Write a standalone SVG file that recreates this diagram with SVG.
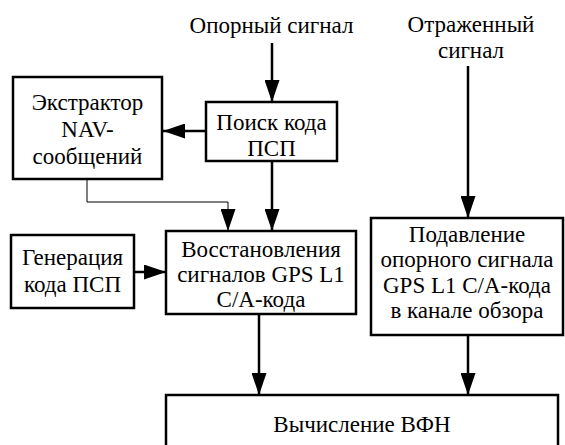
<svg xmlns="http://www.w3.org/2000/svg" width="565" height="445" viewBox="0 0 565 445">
<style>
.box{fill:#fff;stroke:#000;stroke-width:2.5}
text{font-family:'Liberation Serif','Times New Roman',serif;font-size:23px;fill:#000;text-anchor:middle}
.c{fill:none;stroke:#000;stroke-width:2.5}
.t{fill:none;stroke:#000;stroke-width:1}
</style>
<defs>
<marker id="ah" markerUnits="userSpaceOnUse" markerWidth="22" markerHeight="15" refX="22" refY="7.5" orient="auto" viewBox="0 0 22 15">
<path d="M0,0 L22,7.5 L0,15 z" fill="#000"/>
</marker>
</defs>
<rect width="565" height="445" fill="#fff"/>
<g font-family="Liberation Serif, serif">
<g id="label-ref"><text x="271.5" y="33">Опорный сигнал</text></g>
<g id="label-refl"><text x="471" y="32">Отраженный</text><text x="471" y="58">сигнал</text></g>
<g id="extractor">
<rect class="box" x="13" y="77" width="149" height="102"/>
<text x="87.5" y="110">Экстрактор</text>
<text x="87.5" y="137">NAV-</text>
<text x="87.5" y="164">сообщений</text>
</g>
<g id="search">
<rect class="box" x="206" y="102" width="131" height="59"/>
<text x="271.5" y="130">Поиск кода</text>
<text x="271.5" y="156">ПСП</text>
</g>
<g id="generation">
<rect class="box" x="11" y="235" width="123" height="73"/>
<text x="72.5" y="265">Генерация</text>
<text x="72.5" y="292">кода ПСП</text>
</g>
<g id="restore">
<rect class="box" x="166" y="231" width="190" height="83"/>
<text x="261" y="257">Восстановления</text>
<text x="261" y="282">сигналов GPS L1</text>
<text x="261" y="307">С/А-кода</text>
</g>
<g id="suppress">
<rect class="box" x="371" y="218" width="192" height="117"/>
<text x="467" y="242">Подавление</text>
<text x="467" y="267">опорного сигнала</text>
<text x="467" y="293">GPS L1 С/А-кода</text>
<text x="467" y="318">в канале обзора</text>
</g>
<g id="vfn">
<rect class="box" x="166" y="395" width="392" height="60"/>
<text x="362" y="432">Вычисление ВФН</text>
</g>
</g>
<g id="connectors">
<line class="c" x1="272" y1="43" x2="272" y2="102" marker-end="url(#ah)"/>
<line class="c" x1="468" y1="66" x2="468" y2="218" marker-end="url(#ah)"/>
<line class="c" x1="206" y1="131" x2="163" y2="131" marker-end="url(#ah)"/>
<line class="c" x1="272" y1="161" x2="272" y2="231" marker-end="url(#ah)"/>
<polyline class="t" points="87,179 87,202 228,202 228,231" marker-end="url(#ah)"/>
<line class="c" x1="134" y1="272" x2="166" y2="272" marker-end="url(#ah)"/>
<line class="c" x1="259" y1="314" x2="259" y2="395" marker-end="url(#ah)"/>
<line class="c" x1="468" y1="335" x2="468" y2="395" marker-end="url(#ah)"/>
</g>
</svg>
